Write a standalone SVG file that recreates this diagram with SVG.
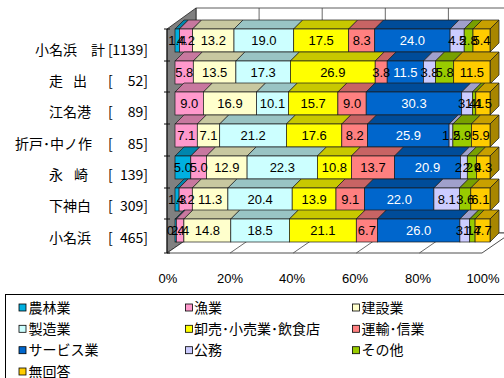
<svg xmlns="http://www.w3.org/2000/svg" width="504" height="378" viewBox="0 0 504 378">
<style>
.bar rect,.bar path{stroke:#1a1a1a;stroke-width:0.7}
.f1{fill:#00B0E0}.k1{fill:#0086AD}
.f2{fill:#FF99CC}.k2{fill:#C8789F}
.f3{fill:#FFFFCC}.k3{fill:#C8C8A0}
.f4{fill:#CCFFFF}.k4{fill:#99C4C4}
.f5{fill:#FFFF00}.k5{fill:#C8C800}
.f6{fill:#FF8080}.k6{fill:#C86464}
.f7{fill:#0066CC}.k7{fill:#004C99}
.f8{fill:#CCCCFF}.k8{fill:#A0A0CC}
.f9{fill:#99CC00}.k9{fill:#78A000}
.f10{fill:#FFCC00}.k10{fill:#C8A000}.s10{fill:#A88600}
.v{font-family:"Liberation Sans",Arial,sans-serif;font-size:13px;text-anchor:middle;fill:#000}
.w{fill:#fff}
.cat{font-family:"Noto Sans CJK JP","Liberation Sans",sans-serif;font-size:14px;fill:#000}
.ax{font-family:"Liberation Sans",Arial,sans-serif;font-size:13px;text-anchor:middle;fill:#000}
.lg{font-family:"Noto Sans CJK JP",sans-serif;font-size:14px;fill:#000}
.sq{stroke:#000;stroke-width:0.8}
.grid{stroke:#444;stroke-width:0.8;fill:none}
</style>

<g id="frame">
  <polygon points="196,8 511,8 511,233 196,233" fill="#fff" stroke="#333" stroke-width="0.8"/>
  <line class="grid" x1="259.1" y1="8" x2="259.1" y2="233"/>
  <line class="grid" x1="322.2" y1="8" x2="322.2" y2="233"/>
  <line class="grid" x1="385.3" y1="8" x2="385.3" y2="233"/>
  <line class="grid" x1="448.4" y1="8" x2="448.4" y2="233"/>
  <polygon points="167,29 196,8 196,233 167,253" fill="#808080" stroke="#222" stroke-width="0.8"/>
  <polygon points="167,253 482,253 511,233 196,233" fill="#fff" stroke="#222" stroke-width="0.8"/>
  <line class="grid" x1="230.1" y1="253" x2="259.1" y2="233"/>
  <line class="grid" x1="293.2" y1="253" x2="322.2" y2="233"/>
  <line class="grid" x1="356.3" y1="253" x2="385.3" y2="233"/>
  <line class="grid" x1="419.4" y1="253" x2="448.4" y2="233"/>
  <line x1="167" y1="29" x2="167" y2="253" stroke="#111" stroke-width="1"/>
  <g stroke="#111" stroke-width="1">
    <line x1="164" y1="29" x2="170" y2="29"/>
    <line x1="164" y1="61" x2="170" y2="61"/>
    <line x1="164" y1="92" x2="170" y2="92"/>
    <line x1="164" y1="124" x2="170" y2="124"/>
    <line x1="164" y1="156" x2="170" y2="156"/>
    <line x1="164" y1="188" x2="170" y2="188"/>
    <line x1="164" y1="219" x2="170" y2="219"/>
    <line x1="164" y1="253" x2="170" y2="253"/>
  </g>
</g>

<g id="row1" class="bar">
  <path class="k1" d="M175,29l9,-9h4.4l-9,9z"/>
  <path class="k2" d="M179.4,29l9,-9h13.2l-9,9z"/>
  <path class="k3" d="M192.6,29l9,-9h41.4l-9,9z"/>
  <path class="k4" d="M234,29l9,-9h59.7l-9,9z"/>
  <path class="k5" d="M293.7,29l9,-9h55l-9,9z"/>
  <path class="k6" d="M348.7,29l9,-9h26l-9,9z"/>
  <path class="k7" d="M374.7,29l9,-9h75.4l-9,9z"/>
  <path class="k8" d="M450.1,29l9,-9h14.1l-9,9z"/>
  <path class="k9" d="M464.2,29l9,-9h8.8l-9,9z"/>
  <path class="k10" d="M473,29l9,-9h17l-9,9z"/>
  <path class="s10" d="M490,29l9,-9v23l-9,9z"/>
  <rect class="f1" x="175" y="29" width="4.4" height="23"/>
  <rect class="f2" x="179.4" y="29" width="13.2" height="23"/>
  <rect class="f3" x="192.6" y="29" width="41.4" height="23"/>
  <rect class="f4" x="234" y="29" width="59.7" height="23"/>
  <rect class="f5" x="293.7" y="29" width="55" height="23"/>
  <rect class="f6" x="348.7" y="29" width="26" height="23"/>
  <rect class="f7" x="374.7" y="29" width="75.4" height="23"/>
  <rect class="f8" x="450.1" y="29" width="14.1" height="23"/>
  <rect class="f9" x="464.2" y="29" width="8.8" height="23"/>
  <rect class="f10" x="473" y="29" width="17" height="23"/>
  <text class="v" x="177.2" y="45">1.4</text>
  <text class="v" x="186" y="45">4.2</text>
  <text class="v" x="213.3" y="45">13.2</text>
  <text class="v" x="263.9" y="45">19.0</text>
  <text class="v" x="321.2" y="45">17.5</text>
  <text class="v" x="361.7" y="45">8.3</text>
  <text class="v w" x="412.4" y="45">24.0</text>
  <text class="v" x="457.2" y="45">4.5</text>
  <text class="v" x="468.6" y="45">2.8</text>
  <text class="v" x="481.5" y="45">5.4</text>
</g>

<g id="row2" class="bar">
  <path class="k2" d="M175,61l9,-9h18.3l-9,9z"/>
  <path class="k3" d="M193.3,61l9,-9h42.6l-9,9z"/>
  <path class="k4" d="M235.9,61l9,-9h54.5l-9,9z"/>
  <path class="k5" d="M290.4,61l9,-9h84.8l-9,9z"/>
  <path class="k6" d="M375.2,61l9,-9h12l-9,9z"/>
  <path class="k7" d="M387.2,61l9,-9h36.3l-9,9z"/>
  <path class="k8" d="M423.5,61l9,-9h12l-9,9z"/>
  <path class="k9" d="M435.5,61l9,-9h18.2l-9,9z"/>
  <path class="k10" d="M453.7,61l9,-9h36.3l-9,9z"/>
  <path class="s10" d="M490,61l9,-9v23l-9,9z"/>
  <rect class="f2" x="175" y="61" width="18.3" height="23"/>
  <rect class="f3" x="193.3" y="61" width="42.6" height="23"/>
  <rect class="f4" x="235.9" y="61" width="54.5" height="23"/>
  <rect class="f5" x="290.4" y="61" width="84.8" height="23"/>
  <rect class="f6" x="375.2" y="61" width="12" height="23"/>
  <rect class="f7" x="387.2" y="61" width="36.3" height="23"/>
  <rect class="f8" x="423.5" y="61" width="12" height="23"/>
  <rect class="f9" x="435.5" y="61" width="18.2" height="23"/>
  <rect class="f10" x="453.7" y="61" width="36.3" height="23"/>
  <text class="v" x="184.2" y="77">5.8</text>
  <text class="v" x="214.6" y="77">13.5</text>
  <text class="v" x="263.2" y="77">17.3</text>
  <text class="v" x="332.8" y="77">26.9</text>
  <text class="v" x="381.2" y="77">3.8</text>
  <text class="v w" x="405.4" y="77">11.5</text>
  <text class="v" x="429.5" y="77">3.8</text>
  <text class="v" x="444.6" y="77">5.8</text>
  <text class="v" x="471.9" y="77">11.5</text>
</g>

<g id="row3" class="bar">
  <path class="k2" d="M175,92l9,-9h28.4l-9,9z"/>
  <path class="k3" d="M203.4,92l9,-9h53.2l-9,9z"/>
  <path class="k4" d="M256.6,92l9,-9h31.8l-9,9z"/>
  <path class="k5" d="M288.4,92l9,-9h49.5l-9,9z"/>
  <path class="k6" d="M337.9,92l9,-9h28.3l-9,9z"/>
  <path class="k7" d="M366.2,92l9,-9h95.5l-9,9z"/>
  <path class="k8" d="M461.7,92l9,-9h10.7l-9,9z"/>
  <path class="k9" d="M472.4,92l9,-9h3.4l-9,9z"/>
  <path class="k10" d="M475.8,92l9,-9h14.2l-9,9z"/>
  <path class="s10" d="M490,92l9,-9v23l-9,9z"/>
  <rect class="f2" x="175" y="92" width="28.4" height="23"/>
  <rect class="f3" x="203.4" y="92" width="53.2" height="23"/>
  <rect class="f4" x="256.6" y="92" width="31.8" height="23"/>
  <rect class="f5" x="288.4" y="92" width="49.5" height="23"/>
  <rect class="f6" x="337.9" y="92" width="28.3" height="23"/>
  <rect class="f7" x="366.2" y="92" width="95.5" height="23"/>
  <rect class="f8" x="461.7" y="92" width="10.7" height="23"/>
  <rect class="f9" x="472.4" y="92" width="3.4" height="23"/>
  <rect class="f10" x="475.8" y="92" width="14.2" height="23"/>
  <text class="v" x="189.2" y="108">9.0</text>
  <text class="v" x="230" y="108">16.9</text>
  <text class="v" x="272.5" y="108">10.1</text>
  <text class="v" x="313.2" y="108">15.7</text>
  <text class="v" x="352.1" y="108">9.0</text>
  <text class="v w" x="414" y="108">30.3</text>
  <text class="v" x="467.1" y="108">3.4</text>
  <text class="v" x="474.1" y="108">1.1</text>
  <text class="v" x="482.9" y="108">4.5</text>
</g>

<g id="row4" class="bar">
  <path class="k2" d="M175,124l9,-9h22.3l-9,9z"/>
  <path class="k3" d="M197.3,124l9,-9h22.4l-9,9z"/>
  <path class="k4" d="M219.7,124l9,-9h66.7l-9,9z"/>
  <path class="k5" d="M286.4,124l9,-9h55.4l-9,9z"/>
  <path class="k6" d="M341.8,124l9,-9h25.8l-9,9z"/>
  <path class="k7" d="M367.6,124l9,-9h81.5l-9,9z"/>
  <path class="k8" d="M449.1,124l9,-9h3.8l-9,9z"/>
  <path class="k9" d="M452.9,124l9,-9h18.5l-9,9z"/>
  <path class="k10" d="M471.4,124l9,-9h18.6l-9,9z"/>
  <path class="s10" d="M490,124l9,-9v23l-9,9z"/>
  <rect class="f2" x="175" y="124" width="22.3" height="23"/>
  <rect class="f3" x="197.3" y="124" width="22.4" height="23"/>
  <rect class="f4" x="219.7" y="124" width="66.7" height="23"/>
  <rect class="f5" x="286.4" y="124" width="55.4" height="23"/>
  <rect class="f6" x="341.8" y="124" width="25.8" height="23"/>
  <rect class="f7" x="367.6" y="124" width="81.5" height="23"/>
  <rect class="f8" x="449.1" y="124" width="3.8" height="23"/>
  <rect class="f9" x="452.9" y="124" width="18.5" height="23"/>
  <rect class="f10" x="471.4" y="124" width="18.6" height="23"/>
  <text class="v" x="186.2" y="140">7.1</text>
  <text class="v" x="208.5" y="140">7.1</text>
  <text class="v" x="253.1" y="140">21.2</text>
  <text class="v" x="314.1" y="140">17.6</text>
  <text class="v" x="354.7" y="140">8.2</text>
  <text class="v w" x="408.4" y="140">25.9</text>
  <text class="v" x="451" y="140">1.2</text>
  <text class="v" x="462.2" y="140">5.9</text>
  <text class="v" x="480.7" y="140">5.9</text>
</g>

<g id="row5" class="bar">
  <path class="k1" d="M175,156l9,-9h15.8l-9,9z"/>
  <path class="k2" d="M190.8,156l9,-9h15.7l-9,9z"/>
  <path class="k3" d="M206.5,156l9,-9h40.6l-9,9z"/>
  <path class="k4" d="M247.1,156l9,-9h70.3l-9,9z"/>
  <path class="k5" d="M317.4,156l9,-9h34l-9,9z"/>
  <path class="k6" d="M351.4,156l9,-9h43.2l-9,9z"/>
  <path class="k7" d="M394.6,156l9,-9h65.8l-9,9z"/>
  <path class="k8" d="M460.4,156l9,-9h6.9l-9,9z"/>
  <path class="k9" d="M467.3,156l9,-9h9.2l-9,9z"/>
  <path class="k10" d="M476.5,156l9,-9h13.5l-9,9z"/>
  <path class="s10" d="M490,156l9,-9v23l-9,9z"/>
  <rect class="f1" x="175" y="156" width="15.8" height="23"/>
  <rect class="f2" x="190.8" y="156" width="15.7" height="23"/>
  <rect class="f3" x="206.5" y="156" width="40.6" height="23"/>
  <rect class="f4" x="247.1" y="156" width="70.3" height="23"/>
  <rect class="f5" x="317.4" y="156" width="34" height="23"/>
  <rect class="f6" x="351.4" y="156" width="43.2" height="23"/>
  <rect class="f7" x="394.6" y="156" width="65.8" height="23"/>
  <rect class="f8" x="460.4" y="156" width="6.9" height="23"/>
  <rect class="f9" x="467.3" y="156" width="9.2" height="23"/>
  <rect class="f10" x="476.5" y="156" width="13.5" height="23"/>
  <text class="v" x="182.9" y="172">5.0</text>
  <text class="v" x="198.7" y="172">5.0</text>
  <text class="v" x="226.8" y="172">12.9</text>
  <text class="v" x="282.3" y="172">22.3</text>
  <text class="v" x="334.4" y="172">10.8</text>
  <text class="v" x="373" y="172">13.7</text>
  <text class="v w" x="427.5" y="172">20.9</text>
  <text class="v" x="463.9" y="172">2.2</text>
  <text class="v" x="471.9" y="172">2.9</text>
  <text class="v" x="483.3" y="172">4.3</text>
</g>

<g id="row6" class="bar">
  <path class="k1" d="M175,188l9,-9h4.1l-9,9z"/>
  <path class="k2" d="M179.1,188l9,-9h13.2l-9,9z"/>
  <path class="k3" d="M192.3,188l9,-9h35.6l-9,9z"/>
  <path class="k4" d="M227.9,188l9,-9h64.3l-9,9z"/>
  <path class="k5" d="M292.2,188l9,-9h43.8l-9,9z"/>
  <path class="k6" d="M336,188l9,-9h28.6l-9,9z"/>
  <path class="k7" d="M364.6,188l9,-9h69.3l-9,9z"/>
  <path class="k8" d="M433.9,188l9,-9h25.6l-9,9z"/>
  <path class="k9" d="M459.5,188l9,-9h11.3l-9,9z"/>
  <path class="k10" d="M470.8,188l9,-9h19.2l-9,9z"/>
  <path class="s10" d="M490,188l9,-9v23l-9,9z"/>
  <rect class="f1" x="175" y="188" width="4.1" height="23"/>
  <rect class="f2" x="179.1" y="188" width="13.2" height="23"/>
  <rect class="f3" x="192.3" y="188" width="35.6" height="23"/>
  <rect class="f4" x="227.9" y="188" width="64.3" height="23"/>
  <rect class="f5" x="292.2" y="188" width="43.8" height="23"/>
  <rect class="f6" x="336" y="188" width="28.6" height="23"/>
  <rect class="f7" x="364.6" y="188" width="69.3" height="23"/>
  <rect class="f8" x="433.9" y="188" width="25.6" height="23"/>
  <rect class="f9" x="459.5" y="188" width="11.3" height="23"/>
  <rect class="f10" x="470.8" y="188" width="19.2" height="23"/>
  <text class="v" x="177.1" y="204">1.3</text>
  <text class="v" x="185.7" y="204">4.2</text>
  <text class="v" x="210.1" y="204">11.3</text>
  <text class="v" x="260.1" y="204">20.4</text>
  <text class="v" x="314.1" y="204">13.9</text>
  <text class="v" x="350.3" y="204">9.1</text>
  <text class="v w" x="399.3" y="204">22.0</text>
  <text class="v" x="446.7" y="204">8.1</text>
  <text class="v" x="465.2" y="204">3.6</text>
  <text class="v" x="480.4" y="204">6.1</text>
</g>

<g id="row7" class="bar">
  <path class="k1" d="M175,219l9,-9h1.3l-9,9z"/>
  <path class="k2" d="M176.3,219l9,-9h7.6l-9,9z"/>
  <path class="k3" d="M183.9,219l9,-9h46.9l-9,9z"/>
  <path class="k4" d="M230.8,219l9,-9h58.6l-9,9z"/>
  <path class="k5" d="M289.4,219l9,-9h66.9l-9,9z"/>
  <path class="k6" d="M356.3,219l9,-9h21.2l-9,9z"/>
  <path class="k7" d="M377.5,219l9,-9h82.4l-9,9z"/>
  <path class="k8" d="M459.9,219l9,-9h9.8l-9,9z"/>
  <path class="k9" d="M469.7,219l9,-9h5.4l-9,9z"/>
  <path class="k10" d="M475.1,219l9,-9h14.9l-9,9z"/>
  <path class="s10" d="M490,219l9,-9v23l-9,9z"/>
  <rect class="f1" x="175" y="219" width="1.3" height="23"/>
  <rect class="f2" x="176.3" y="219" width="7.6" height="23"/>
  <rect class="f3" x="183.9" y="219" width="46.9" height="23"/>
  <rect class="f4" x="230.8" y="219" width="58.6" height="23"/>
  <rect class="f5" x="289.4" y="219" width="66.9" height="23"/>
  <rect class="f6" x="356.3" y="219" width="21.2" height="23"/>
  <rect class="f7" x="377.5" y="219" width="82.4" height="23"/>
  <rect class="f8" x="459.9" y="219" width="9.8" height="23"/>
  <rect class="f9" x="469.7" y="219" width="5.4" height="23"/>
  <rect class="f10" x="475.1" y="219" width="14.9" height="23"/>
  <text class="v" x="175.7" y="235">0.4</text>
  <text class="v" x="180.1" y="235">2.4</text>
  <text class="v" x="207.4" y="235">14.8</text>
  <text class="v" x="260.1" y="235">18.5</text>
  <text class="v" x="322.9" y="235">21.1</text>
  <text class="v" x="366.9" y="235">6.7</text>
  <text class="v w" x="418.7" y="235">26.0</text>
  <text class="v" x="464.8" y="235">3.1</text>
  <text class="v" x="472.4" y="235">1.7</text>
  <text class="v" x="482.6" y="235">4.7</text>
</g>

<g id="categories">
  <text class="cat" x="35" y="54.5" textLength="70" lengthAdjust="spacing">小名浜　計</text>
  <text class="cat" x="108" y="54.5">[</text>
  <text class="cat" x="148" y="54.5" text-anchor="end">1139]</text>
  <text class="cat" x="49" y="86" textLength="38" lengthAdjust="spacing">走　出</text>
  <text class="cat" x="108" y="86">[</text>
  <text class="cat" x="148" y="86" text-anchor="end">52]</text>
  <text class="cat" x="49" y="117">江名港</text>
  <text class="cat" x="108" y="117">[</text>
  <text class="cat" x="148" y="117" text-anchor="end">89]</text>
  <text class="cat" x="15" y="148.5">折戸･中ノ作</text>
  <text class="cat" x="108" y="148.5">[</text>
  <text class="cat" x="148" y="148.5" text-anchor="end">85]</text>
  <text class="cat" x="49" y="179.5" textLength="39" lengthAdjust="spacing">永　崎</text>
  <text class="cat" x="108" y="179.5">[</text>
  <text class="cat" x="148" y="179.5" text-anchor="end">139]</text>
  <text class="cat" x="49" y="211">下神白</text>
  <text class="cat" x="108" y="211">[</text>
  <text class="cat" x="148" y="211" text-anchor="end">309]</text>
  <text class="cat" x="49" y="242.5">小名浜</text>
  <text class="cat" x="108" y="242.5">[</text>
  <text class="cat" x="148" y="242.5" text-anchor="end">465]</text>
</g>

<g id="axis">
  <text class="ax" x="168" y="283">0%</text>
  <text class="ax" x="230" y="283">20%</text>
  <text class="ax" x="292" y="283">40%</text>
  <text class="ax" x="355" y="283">60%</text>
  <text class="ax" x="418" y="283">80%</text>
  <text class="ax" x="483" y="283">100%</text>
</g>

<g id="legend">
  <rect x="5.5" y="294.5" width="520" height="100" fill="#fff" stroke="#000" stroke-width="1"/>
  <rect class="sq f1" x="19" y="304" width="7" height="7"/>
  <text class="lg" x="28.5" y="312.5">農林業</text>
  <rect class="sq f2" x="185.5" y="304" width="7" height="7"/>
  <text class="lg" x="194" y="312.5">漁業</text>
  <rect class="sq f3" x="352.5" y="304" width="7" height="7"/>
  <text class="lg" x="361.5" y="312.5">建設業</text>
  <rect class="sq f4" x="19" y="325.3" width="7" height="7"/>
  <text class="lg" x="28.5" y="333.8">製造業</text>
  <rect class="sq f5" x="185.5" y="325.3" width="7" height="7"/>
  <text class="lg" x="194" y="333.8">卸売･小売業･飲食店</text>
  <rect class="sq f6" x="352.5" y="325.3" width="7" height="7"/>
  <text class="lg" x="361.5" y="333.8">運輸･信業</text>
  <rect class="sq f7" x="19" y="346.7" width="7" height="7"/>
  <text class="lg" x="28.5" y="355.2">サービス業</text>
  <rect class="sq f8" x="185.5" y="346.7" width="7" height="7"/>
  <text class="lg" x="194" y="355.2">公務</text>
  <rect class="sq f9" x="352.5" y="346.7" width="7" height="7"/>
  <text class="lg" x="361.5" y="355.2">その他</text>
  <rect class="sq f10" x="19" y="368" width="7" height="7"/>
  <text class="lg" x="28.5" y="376.5">無回答</text>
</g>
</svg>
